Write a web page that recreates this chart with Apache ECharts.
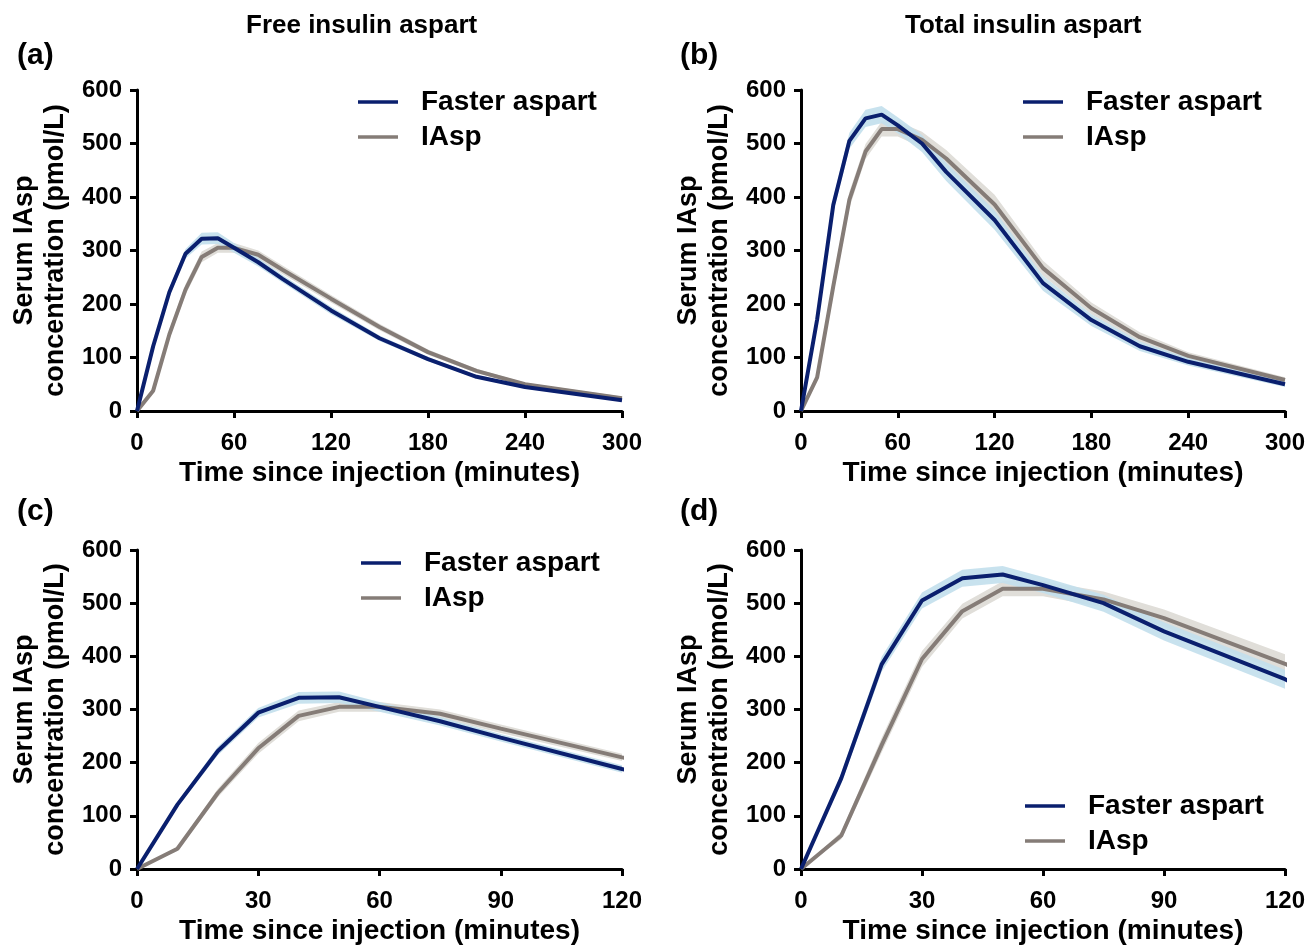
<!DOCTYPE html>
<html>
<head>
<meta charset="utf-8">
<script src="https://cdn.jsdelivr.net/npm/echarts@6/dist/echarts.min.js"></script>
<style>
  html, body { margin: 0; padding: 0; background: #fff; }
  #chart { width: 1309px; height: 946px; }
</style>
</head>
<body>
<div id="chart"></div>
<script>
// sampling times (minutes)
const times = [0, 10, 20, 30, 40, 50, 60, 75, 90, 120, 150, 180, 210, 240, 300];

// free insulin aspart, mean and CI half-width (pmol/L)
const freeFaster = [0, 121, 222, 294, 322, 323, 305, 278, 247, 188, 136, 97, 64, 45, 20];
const freeFasterCI = [0, 5, 8, 9, 11, 11, 9, 8, 7, 7, 5, 4, 3, 3, 2];
const freeIAsp = [0, 38, 143, 227, 288, 305, 305, 292, 264, 210, 157, 110, 75, 50, 24];
const freeIAspCI = [0, 4, 8, 10, 10, 9, 9, 8, 8, 7, 6, 5, 4, 3, 3];

// total insulin aspart
const totalFaster = [0, 171, 385, 505, 547, 554, 534, 500, 447, 357, 239, 170, 121, 92, 50];
const totalFasterCI = [0, 10, 14, 15, 16, 16, 15, 16, 17, 18, 14, 11, 9, 7, 5];
const totalIAsp = [0, 63, 233, 395, 485, 527, 527, 507, 472, 386, 267, 192, 138, 103, 58];
const totalIAspCI = [0, 7, 14, 15, 14, 14, 14, 15, 16, 18, 14, 11, 9, 7, 5];

const xTicksLong = [0, 60, 120, 180, 240, 300];
const xTicksShort = [0, 30, 60, 90, 120];

const blue = '#0a1f6e', blueBand = '#c2dfec';
const gray = '#857c77', grayBand = '#e0ded9';
const font = '"Liberation Sans", Arial, sans-serif';

const grids = [
  { left: 137, top: 90, width: 485, height: 321 },
  { left: 801, top: 90, width: 484, height: 321 },
  { left: 137, top: 550, width: 485, height: 322 },
  { left: 801, top: 550, width: 484, height: 322 }
];

function xAxis(i, ticks) {
  return {
    type: 'value', gridIndex: i, min: 0, max: ticks[ticks.length - 1],
    interval: ticks[1] - ticks[0],
    name: 'Time since injection (minutes)', nameLocation: 'middle', nameGap: 48,
    nameTextStyle: { color: '#000', fontSize: 28, fontWeight: 'bold', fontFamily: font },
    axisLine: { lineStyle: { color: '#000', width: 3 } },
    axisTick: { length: 7, lineStyle: { width: 3, color: '#000' } },
    axisLabel: { color: '#000', fontSize: 24, fontWeight: 'bold', fontFamily: font, margin: 20 },
    splitLine: { show: false }
  };
}
function yAxis(i) {
  return {
    type: 'value', gridIndex: i, min: 0, max: 600, interval: 100,
    name: 'Serum IAsp\nconcentration (pmol/L)', nameLocation: 'middle', nameGap: 66,
    nameTextStyle: { color: '#000', fontSize: 27, fontWeight: 'bold', fontFamily: font, lineHeight: 31 },
    axisLine: { show: true, lineStyle: { color: '#000', width: 3 } },
    axisTick: { show: true, length: 7, lineStyle: { width: 3, color: '#000' } },
    axisLabel: { color: '#000', fontSize: 24, fontWeight: 'bold', fontFamily: font, margin: 15 },
    splitLine: { show: false }
  };
}

// confidence band as one polygon in the grid's coordinates
function bandSeries(i, mean, ci, color, opacity) {
  return {
    type: 'custom', coordinateSystem: 'cartesian2d', xAxisIndex: i, yAxisIndex: i,
    data: [[0, 0]], clip: true, silent: true, z: 1,
    renderItem: function (params, api) {
      const upper = times.map((t, k) => api.coord([t, mean[k] + ci[k]]));
      const lower = times.map((t, k) => api.coord([t, mean[k] - ci[k]])).reverse();
      return {
        type: 'polygon',
        shape: { points: upper.concat(lower) },
        style: { fill: color, opacity: opacity }
      };
    }
  };
}
function lineSeries(i, name, mean, color) {
  return {
    type: 'line', name: name, xAxisIndex: i, yAxisIndex: i,
    data: times.map((t, k) => [t, mean[k]]), showSymbol: false,
    lineStyle: { color: color, width: 4 }, itemStyle: { color: color }, z: 3
  };
}

const panels = [
  [freeFaster, freeFasterCI, freeIAsp, freeIAspCI],
  [totalFaster, totalFasterCI, totalIAsp, totalIAspCI],
  [freeFaster, freeFasterCI, freeIAsp, freeIAspCI],
  [totalFaster, totalFasterCI, totalIAsp, totalIAspCI]
];

const series = [];
panels.forEach((p, i) => {
  series.push(bandSeries(i, p[2], p[3], grayBand, 1));
  series.push(bandSeries(i, p[0], p[1], blueBand, 0.9));
  series.push(lineSeries(i, 'IAsp', p[2], gray));
  series.push(lineSeries(i, 'Faster aspart', p[0], blue));
});

function legend(left, top) {
  return {
    left: left, top: top, orient: 'vertical', data: ['Faster aspart', 'IAsp'],
    icon: 'rect', itemWidth: 40, itemHeight: 3.5, itemGap: 7, padding: 0, selectedMode: false,
    textStyle: { color: '#000', fontSize: 28, fontWeight: 'bold', fontFamily: font,
      lineHeight: 28, padding: [0, 0, 0, 18] }
  };
}

const labelStyle = { fontSize: 30, fontWeight: 'bold', fontFamily: font, fill: '#000' };

const option = {
  animation: false,
  grid: grids,
  xAxis: [xAxis(0, xTicksLong), xAxis(1, xTicksLong), xAxis(2, xTicksShort), xAxis(3, xTicksShort)],
  yAxis: [yAxis(0), yAxis(1), yAxis(2), yAxis(3)],
  legend: [legend(358, 88), legend(1023, 88), legend(361, 549), legend(1025, 792)],
  series: series,
  graphic: [
    { type: 'text', left: 246, top: 13, style: { text: 'Free insulin aspart', fontSize: 26, fontWeight: 'bold', fontFamily: font, fill: '#000' } },
    { type: 'text', left: 905, top: 13, style: { text: 'Total insulin aspart', fontSize: 26, fontWeight: 'bold', fontFamily: font, fill: '#000' } },
    { type: 'text', left: 17, top: 41, style: Object.assign({ text: '(a)' }, labelStyle) },
    { type: 'text', left: 680, top: 41, style: Object.assign({ text: '(b)' }, labelStyle) },
    { type: 'text', left: 17, top: 497, style: Object.assign({ text: '(c)' }, labelStyle) },
    { type: 'text', left: 680, top: 497, style: Object.assign({ text: '(d)' }, labelStyle) }
  ]
};

const myChart = echarts.init(document.getElementById('chart'));
myChart.setOption(option);
</script>
</body>
</html>
